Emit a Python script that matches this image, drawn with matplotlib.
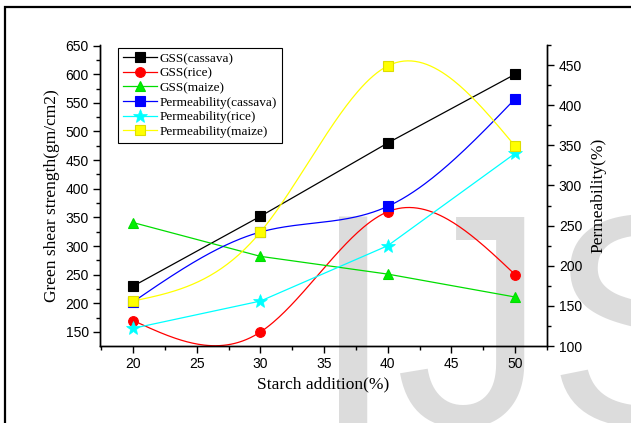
import numpy as np
import matplotlib
matplotlib.use("Agg")
import matplotlib.pyplot as plt
from matplotlib.ticker import MultipleLocator
from matplotlib.patches import Rectangle

# ---- data ----
starch = [20, 30, 40, 50]
gss_cassava = [230, 352, 480, 600]
gss_rice = [170, 150, 360, 250]
gss_maize = [341, 282, 251, 211]
perm_cassava = [155, 242, 274, 408]
perm_rice = [122, 156, 225, 340]
perm_maize = [156, 242, 449, 349]


def natural_spline(x, y, n=200):
    x = np.asarray(x, float)
    y = np.asarray(y, float)
    m = len(x)
    h = np.diff(x)
    A = np.zeros((m, m))
    b = np.zeros(m)
    A[0, 0] = 1
    A[-1, -1] = 1
    for i in range(1, m - 1):
        A[i, i - 1] = h[i - 1]
        A[i, i] = 2 * (h[i - 1] + h[i])
        A[i, i + 1] = h[i]
        b[i] = 6 * ((y[i + 1] - y[i]) / h[i] - (y[i] - y[i - 1]) / h[i - 1])
    M = np.linalg.solve(A, b)
    xs = np.linspace(x[0], x[-1], n)
    ys = np.empty_like(xs)
    for k, xv in enumerate(xs):
        i = min(np.searchsorted(x, xv, side="right") - 1, m - 2)
        t1 = x[i + 1] - xv
        t0 = xv - x[i]
        ys[k] = (M[i] * t1 ** 3 / (6 * h[i]) + M[i + 1] * t0 ** 3 / (6 * h[i])
                 + (y[i] / h[i] - M[i] * h[i] / 6) * t1
                 + (y[i + 1] / h[i] - M[i + 1] * h[i] / 6) * t0)
    return xs, ys


W, H = 631, 423
fig = plt.figure(figsize=(W / 100, H / 100), dpi=100)

# frame
fig.patches.append(Rectangle((4.5 / W, -0.1), 1.2, (H - 7) / H + 0.1,
                             transform=fig.transFigure, fill=False,
                             edgecolor="black", linewidth=1.6, zorder=-2))

# watermark
fig.text(311 / W, -2 / H, "IJS", fontsize=218, family="Liberation Sans",
         color="#dcdcdc", ha="left", va="baseline", zorder=-1)

ax = fig.add_axes([100 / W, (H - 346) / H, 447 / W, 301 / H])
ax.patch.set_alpha(0)
ax2 = ax.twinx()
ax2.patch.set_alpha(0)
ax.set_zorder(1)
ax2.set_zorder(2)

sans = "Liberation Sans"
serif = "Liberation Serif"

mk = dict(markersize=7, markeredgewidth=0.8)
l1, = ax.plot(starch, gss_cassava, color="black", lw=0.9, marker="s",
              markerfacecolor="black", markeredgecolor="black", **mk)
xs, ys = natural_spline(starch, gss_rice)
ax.plot(xs, ys, color="red", lw=0.9)
l2, = ax.plot(starch, gss_rice, color="red", lw=0.9, ls="none", marker="o",
              markerfacecolor="red", markeredgecolor="red", **mk)
l3, = ax.plot(starch, gss_maize, color="#00dd00", lw=0.9, marker="^",
              markerfacecolor="#00ee00", markeredgecolor="#00dd00", **mk)

xs, ys = natural_spline(starch, perm_cassava)
ax2.plot(xs, ys, color="blue", lw=0.9)
l4, = ax2.plot(starch, perm_cassava, color="blue", ls="none", marker="s",
               markerfacecolor="blue", markeredgecolor="blue", **mk)
l5, = ax2.plot(starch, perm_rice, color="cyan", lw=0.9, marker="*",
               markerfacecolor="cyan", markeredgecolor="cyan",
               markersize=10, markeredgewidth=0.5)
xs, ys = natural_spline(starch, perm_maize)
ax2.plot(xs, ys, color="yellow", lw=0.9)
l6, = ax2.plot(starch, perm_maize, color="yellow", ls="none", marker="s",
               markerfacecolor="yellow", markeredgecolor="#dddd00", **mk)

ax.set_xlim(17.4, 52.5)
ax.set_ylim(125.5, 651)
ax2.set_ylim(100, 475)

ax.xaxis.set_major_locator(MultipleLocator(5))
ax.xaxis.set_minor_locator(MultipleLocator(2.5))
ax.yaxis.set_major_locator(MultipleLocator(50))
ax.yaxis.set_minor_locator(MultipleLocator(25))
ax2.yaxis.set_major_locator(MultipleLocator(50))
ax2.yaxis.set_minor_locator(MultipleLocator(25))

for a in (ax, ax2):
    a.spines["top"].set_visible(False)
    for s in a.spines.values():
        s.set_linewidth(1.0)
    a.tick_params(which="major", direction="out", length=5, width=1.0,
                  labelsize=10)
    a.tick_params(which="minor", direction="out", length=3, width=1.0)
    for lab in a.get_xticklabels() + a.get_yticklabels():
        lab.set_family(sans)
ax.tick_params(axis="both", pad=3)

ax.set_xlabel("Starch addition(%)", family=serif, fontsize=12.5, labelpad=4)
ax.set_ylabel("Green shear strength(gm/cm2)", family=serif, fontsize=12.5,
              labelpad=4)
ax2.set_ylabel("Permeability(%)", family=serif, fontsize=12.5, labelpad=6)

leg = ax.legend([l1, l2, l3, l4, l5, l6],
                ["GSS(cassava)", "GSS(rice)", "GSS(maize)",
                 "Permeability(cassava)", "Permeability(rice)",
                 "Permeability(maize)"],
                loc="upper left", bbox_to_anchor=(18 / 447, 1 - 3 / 301),
                prop={"family": serif, "size": 9.5}, frameon=True,
                fancybox=False, edgecolor="black", framealpha=1,
                handlelength=2.6, handletextpad=0.2, labelspacing=0.18,
                borderpad=0.35, borderaxespad=0)
leg.get_frame().set_linewidth(0.8)
for h in leg.legend_handles:
    h.set_linestyle("-")
    h.set_linewidth(0.9)

fig.savefig("out.png", dpi=100)
